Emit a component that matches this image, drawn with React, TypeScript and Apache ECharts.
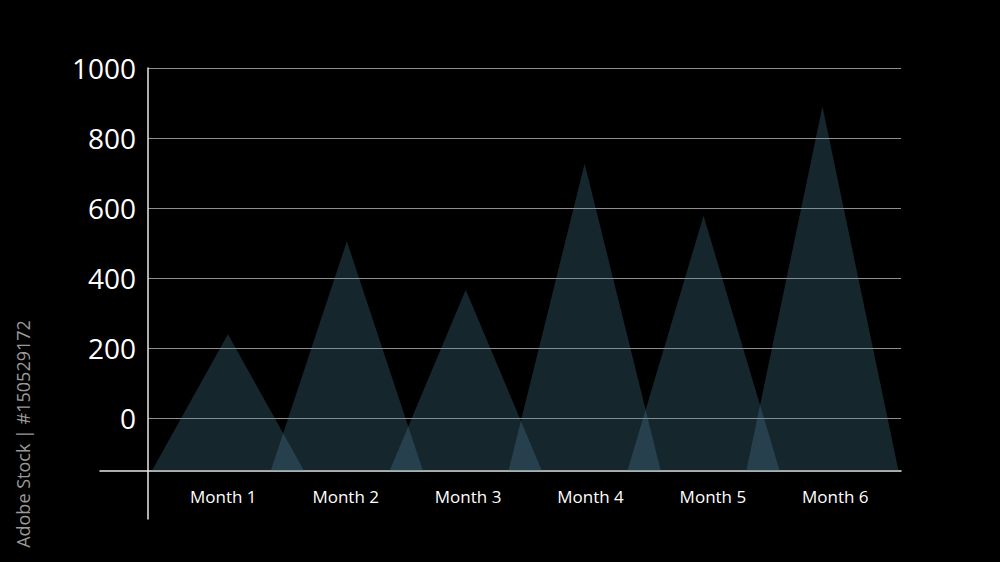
import React, { useEffect, useRef } from "react";
import * as echarts from "echarts";

const months = ["Month 1", "Month 2", "Month 3", "Month 4", "Month 5", "Month 6"];
const values = [240, 505, 367, 727, 578, 890];
const yTicks = [0, 200, 400, 600, 800, 1000];
const Y_MIN = -150;
const Y_MAX = 1000;
const creditText = "Adobe Stock | #150529172";

const FONT = "'Open Sans', 'Noto Sans', sans-serif";

export default function App() {
  const ref = useRef<HTMLDivElement>(null);

  useEffect(() => {
    if (!ref.current) return;
    const chart = echarts.init(ref.current, null, { renderer: "svg" });
    const hiddenAxis = {
      show: false,
    };
    const baseGrid = { top: 68, bottom: 91.3 };
    const option: any = {
      animation: false,
      backgroundColor: "#000000",
      grid: [
        { ...baseGrid, left: 148, right: 99 },
        { ...baseGrid, left: 100, right: 99 },
        { top: 68, bottom: 43, left: 148, right: 99 },
        { ...baseGrid, left: 162.1, right: 103.5 },
        { ...baseGrid, left: 168.5, right: 118.1 },
      ],
      xAxis: [
        { type: "category", gridIndex: 0, data: months, ...hiddenAxis },
        {
          type: "category",
          gridIndex: 1,
          data: months,
          axisLine: { show: true, onZero: false, lineStyle: { color: "#e8e8e8", width: 1.5 } },
          axisTick: { show: false },
          axisLabel: { show: false },
        },
        { type: "category", gridIndex: 2, data: months, ...hiddenAxis },
        {
          type: "category",
          gridIndex: 3,
          data: months,
          axisLine: { show: false, onZero: false },
          axisTick: { show: false },
          axisLabel: {
            color: "#ffffff",
            fontSize: 17,
            fontFamily: FONT,
            margin: 17,
          },
        },
        { type: "category", gridIndex: 4, data: months, ...hiddenAxis },
      ],
      yAxis: [
        {
          type: "value",
          gridIndex: 0,
          min: Y_MIN,
          max: Y_MAX,
          axisLine: { show: false },
          axisTick: { show: false, customValues: yTicks },
          axisLabel: {
            customValues: yTicks,
            formatter: (v: number) => String(v),
            color: "#ffffff",
            fontSize: 28,
            fontFamily: FONT,
            margin: 12,
          },
          splitLine: { show: true, lineStyle: { color: "#8f8f8f", width: 1 } },
        },
        { type: "value", gridIndex: 1, min: Y_MIN, max: Y_MAX, show: false },
        {
          type: "value",
          gridIndex: 2,
          min: Y_MIN,
          max: Y_MAX,
          axisLine: { show: true, lineStyle: { color: "#e8e8e8", width: 1.5 } },
          axisTick: { show: false },
          axisLabel: { show: false },
          splitLine: { show: false },
        },
        { type: "value", gridIndex: 3, min: Y_MIN, max: Y_MAX, show: false },
        { type: "value", gridIndex: 4, min: Y_MIN, max: Y_MAX, show: false },
      ],
      graphic: [
        {
          type: "text",
          x: 23,
          y: 434,
          rotation: Math.PI / 2,
          style: {
            text: creditText,
            fill: "#9a9a9a",
            font: `18px ${FONT}`,
            align: "center",
            verticalAlign: "middle",
          },
        },
      ],
      series: [
        {
          type: "custom",
          xAxisIndex: 4,
          yAxisIndex: 4,
          data: months.map((m, i) => [i, values[i]]),
          encode: { x: 0, y: 1 },
          renderItem: (params: any, api: any) => {
            const idx = api.value(0);
            const v = api.value(1);
            const top = api.coord([idx, v]);
            const base = api.coord([idx, Y_MIN]);
            const half = api.size([1, 0])[0] * 0.64;
            return {
              type: "polygon",
              shape: {
                points: [
                  [base[0] - half, base[1]],
                  top,
                  [base[0] + half, base[1]],
                ],
              },
              style: { fill: "rgba(80, 140, 165, 0.27)" },
            };
          },
        },
      ],
    };
    chart.setOption(option);
    return () => chart.dispose();
  }, []);

  return (
    <div
      ref={ref}
      style={{ position: "fixed", left: 0, top: 0, width: 1000, height: 562, background: "#000" }}
    />
  );
}
